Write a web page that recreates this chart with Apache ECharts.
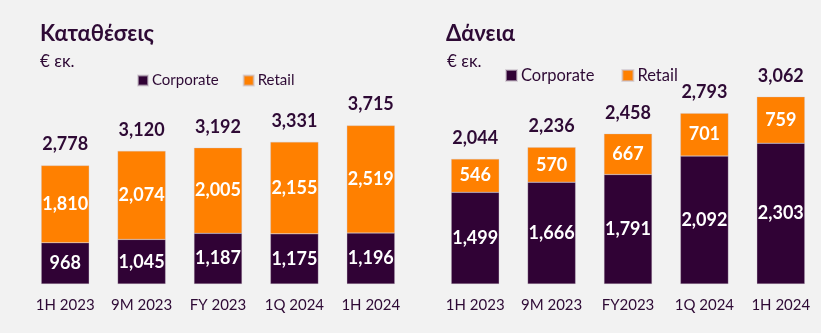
<!DOCTYPE html>
<html><head><meta charset="utf-8">
<script src="https://cdn.jsdelivr.net/npm/echarts@6/dist/echarts.min.js"></script>
<style>html,body{margin:0;padding:0;background:#F2F2F2}#c{width:821px;height:333px}</style>
</head><body><div id="c"></div>
<script>
const depCategories = ['1H 2023','9M 2023','FY 2023','1Q 2024','1H 2024'];
const depCorporate = [968, 1045, 1187, 1175, 1196];
const depRetail = [1810, 2074, 2005, 2155, 2519];
const depTotal = [2778, 3120, 3192, 3331, 3715];

const loanCategories = ['1H 2023','9M 2023','FY2023','1Q 2024','1H 2024'];
const loanCorporate = [1499, 1666, 1791, 2092, 2303];
const loanRetail = [546, 570, 667, 701, 759];
const loanTotal = [2044, 2236, 2458, 2793, 3062];

const PURPLE = '#300235';
const ORANGE = '#FF8000';
const TEXT = '#2E0A35';
const FONT = 'Lato, "Noto Sans", sans-serif';
const fmt = v => v.toLocaleString('en-US');

const chart = echarts.init(document.getElementById('c'));
function barSeries(name, data, color, idx) {
  return {
    name, type: 'bar', data, stack: 's' + idx, xAxisIndex: idx, yAxisIndex: idx,
    barWidth: 48, itemStyle: { color, borderColor: 'rgba(200,190,200,0.6)', borderWidth: 0.5 },
    label: { show: true, position: 'inside', color: '#fff', fontFamily: FONT, fontWeight: 'bold', fontSize: 18,
      formatter: p => fmt(p.value) }
  };
}
function totalSeries(totals, idx) {
  return {
    name: 'Total', type: 'bar', data: totals.map(() => 0), stack: 's' + idx, xAxisIndex: idx, yAxisIndex: idx,
    barWidth: 48, silent: true, itemStyle: { color: 'transparent' },
    label: { show: true, position: 'top', distance: 12, color: TEXT, fontFamily: FONT, fontWeight: 'bold', fontSize: 18,
      formatter: p => fmt(totals[p.dataIndex]) }
  };
}
const xAx = (cats, gi) => ({
  type: 'category', data: cats, gridIndex: gi,
  axisLine: { show: false }, axisTick: { show: false },
  axisLabel: { interval: 0, color: TEXT, fontFamily: FONT, fontSize: 15, margin: 14 }
});
chart.setOption({
  backgroundColor: '#F2F2F2',
  animation: false,
  title: [
    { text: 'Καταθέσεις', left: 35, top: 18, textStyle: { color: TEXT, fontFamily: FONT, fontWeight: 'bold', fontSize: 22 } },
    { text: '€ εκ.', left: 35, top: 48, textStyle: { color: TEXT, fontFamily: FONT, fontWeight: 'normal', fontSize: 17 } },
    { text: 'Δάνεια', left: 441, top: 18, textStyle: { color: TEXT, fontFamily: FONT, fontWeight: 'bold', fontSize: 22 } },
    { text: '€ εκ.', left: 442, top: 48, textStyle: { color: TEXT, fontFamily: FONT, fontWeight: 'normal', fontSize: 17 } }
  ],
  legend: [
    { data: ['Corporate', 'Retail'], left: 132, top: 68, icon: 'rect', itemWidth: 10, itemHeight: 10, itemGap: 24,
      textStyle: { color: TEXT, fontFamily: FONT, fontSize: 15, padding: [0, 0, 0, -1] } },
    { data: ['Corporate', 'Retail'], left: 500, top: 62, icon: 'rect', itemWidth: 11, itemHeight: 11, itemGap: 27,
      textStyle: { color: TEXT, fontFamily: FONT, fontSize: 16.5, padding: [0, 0, 0, -1] } }
  ],
  grid: [
    { left: 27, width: 382, top: 92, height: 192 },
    { left: 437, width: 382, top: 70, height: 214 }
  ],
  xAxis: [xAx(depCategories, 0), xAx(loanCategories, 1)],
  yAxis: [
    { type: 'value', gridIndex: 0, min: 0, max: 4500, show: false, splitLine: { show: false } },
    { type: 'value', gridIndex: 1, min: 0, max: 3500, show: false, splitLine: { show: false } }
  ],
  series: [
    barSeries('Corporate', depCorporate, PURPLE, 0),
    barSeries('Retail', depRetail, ORANGE, 0),
    totalSeries(depTotal, 0),
    barSeries('Corporate', loanCorporate, PURPLE, 1),
    barSeries('Retail', loanRetail, ORANGE, 1),
    totalSeries(loanTotal, 1)
  ]
});
</script></body></html>
